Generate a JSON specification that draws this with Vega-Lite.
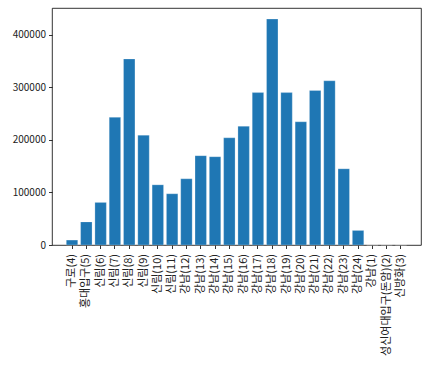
{
  "$schema": "https://vega.github.io/schema/vega-lite/v6.json",
  "width": 369,
  "height": 237,
  "autosize": {"type": "none"},
  "padding": {"left": 52, "top": 8, "right": 14, "bottom": 132},
  "background": "white",
  "config": {
    "view": {"stroke": "#000000", "strokeWidth": 0.8},
    "font": "Noto Sans CJK KR",
    "axis": {
      "labelFont": "Noto Sans CJK KR",
      "labelFontSize": 10,
      "labelColor": "#222222",
      "domain": false,
      "tickColor": "#000000",
      "tickSize": 3.5,
      "tickWidth": 0.8,
      "grid": false,
      "title": null
    }
  },
  "data": {
    "values": [
      {"station": "구로(4)", "value": 9400},
      {"station": "홍대입구(5)", "value": 44000},
      {"station": "신림(6)", "value": 81000},
      {"station": "신림(7)", "value": 243000},
      {"station": "신림(8)", "value": 354000},
      {"station": "신림(9)", "value": 209000},
      {"station": "신림(10)", "value": 114500},
      {"station": "신림(11)", "value": 97500},
      {"station": "강남(12)", "value": 126000},
      {"station": "강남(13)", "value": 170000},
      {"station": "강남(14)", "value": 168000},
      {"station": "강남(15)", "value": 204000},
      {"station": "강남(16)", "value": 226000},
      {"station": "강남(17)", "value": 290000},
      {"station": "강남(18)", "value": 430000},
      {"station": "강남(19)", "value": 290000},
      {"station": "강남(20)", "value": 234500},
      {"station": "강남(21)", "value": 294000},
      {"station": "강남(22)", "value": 312500},
      {"station": "강남(23)", "value": 145000},
      {"station": "강남(24)", "value": 27700},
      {"station": "강남(1)", "value": 0},
      {"station": "성신여대입구(돈암)(2)", "value": 0},
      {"station": "신방화(3)", "value": 0}
    ]
  },
  "mark": {"type": "bar", "color": "#1f77b4", "stroke": "#ffffff", "strokeWidth": 0.4, "strokeOpacity": 0.6},
  "encoding": {
    "x": {
      "field": "station",
      "type": "nominal",
      "sort": null,
      "scale": {"paddingInner": 0.2, "paddingOuter": 1.19},
      "axis": {"labelAngle": -90, "labelPadding": 5, "labelLimit": 200, "labelFontSize": 11}
    },
    "y": {
      "field": "value",
      "type": "quantitative",
      "scale": {"domain": [0, 451000], "nice": false},
      "axis": {"values": [0, 100000, 200000, 300000, 400000], "format": "d", "labelPadding": 3}
    }
  }
}
